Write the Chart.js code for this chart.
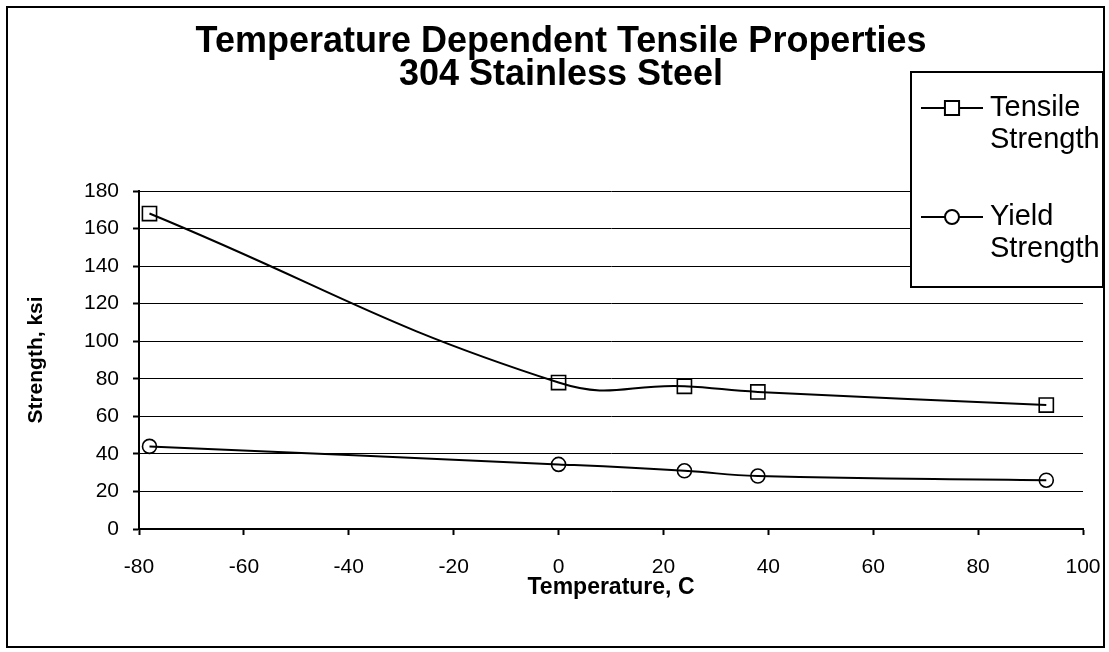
<!DOCTYPE html>
<html>
<head>
<meta charset="utf-8">
<script src="https://cdn.jsdelivr.net/npm/chart.js@4.4.1/dist/chart.umd.min.js"></script>
<style>
  html, body { margin: 0; padding: 0; background: #fff; }
  #wrap { width: 1109px; height: 652px; }
</style>
</head>
<body>
<div id="wrap"><canvas id="myChart" width="1109" height="652"></canvas></div>
<script>
// data
const temperatures = [-78, 0, 24, 38, 93];
const tensileStrength = [168, 78, 76, 73, 66];
const yieldStrength = [44, 34.4, 31, 28.2, 26];
const seriesNames = ["Tensile Strength", "Yield Strength"];
const seriesMarkers = ["rect", "circle"];
const titleLines = ["Temperature Dependent Tensile Properties", "304 Stainless Steel"];
const xTicks = { min: -80, max: 100, step: 20 };
const yTicks = { min: 0, max: 180, step: 20 };

const FONT = "'Liberation Sans', Arial, Helvetica, sans-serif";

function toPoints(ys) {
    return temperatures.map((t, i) => ({ x: t, y: ys[i] }));
}

// white page, outer frame and the two-line title
const framePlugin = {
    id: "frame",
    beforeDraw(chart) {
        const ctx = chart.ctx;
        ctx.save();
        ctx.fillStyle = "#fff";
        ctx.fillRect(0, 0, chart.width, chart.height);
        ctx.restore();
    },
    afterDraw(chart) {
        const ctx = chart.ctx;
        ctx.save();
        ctx.strokeStyle = "#000";
        ctx.lineWidth = 2;
        ctx.strokeRect(7, 7, 1097, 640);
        ctx.fillStyle = "#000";
        ctx.font = "bold 36px " + FONT;
        ctx.textAlign = "center";
        ctx.textBaseline = "alphabetic";
        ctx.fillText(titleLines[0], 561, 52);
        ctx.fillText(titleLines[1], 561, 85);
        ctx.restore();
    }
};

// Excel style boxed legend sitting over the plot
const boxLegend = {
    id: "boxLegend",
    afterDatasetsDraw(chart) {
        const ctx = chart.ctx;
        const box = { x: 911, y: 72, w: 192, h: 215 };
        const rows = [108, 217];
        ctx.save();
        ctx.fillStyle = "#fff";
        ctx.fillRect(box.x, box.y, box.w, box.h);
        ctx.strokeStyle = "#000";
        ctx.lineWidth = 2;
        ctx.strokeRect(box.x, box.y, box.w, box.h);

        chart.data.datasets.forEach((ds, i) => {
            const y = rows[i];
            ctx.strokeStyle = "#000";
            ctx.lineWidth = 2;
            ctx.beginPath();
            ctx.moveTo(921, y);
            ctx.lineTo(983, y);
            ctx.stroke();
            ctx.fillStyle = "#fff";
            Chart.helpers.drawPoint(ctx, {
                pointStyle: ds.pointStyle,
                radius: ds.pointRadius,
                rotation: 0,
                borderWidth: 1.6
            }, 952, y);
            ctx.fillStyle = "#000";
            ctx.font = "29px " + FONT;
            ctx.textAlign = "left";
            ctx.textBaseline = "middle";
            ds.label.split(" ").forEach((word, k) => {
                ctx.fillText(word, 990, y + k * 32);
            });
        });
        ctx.restore();
    }
};

const commonSet = {
    borderColor: "#000",
    borderWidth: 2,
    backgroundColor: "rgba(0,0,0,0)",
    pointBorderColor: "#000",
    pointBackgroundColor: "rgba(0,0,0,0)",
    pointBorderWidth: 1.6,
    pointHoverRadius: 7,
    tension: 0.45,
    fill: false
};

new Chart("myChart", {
    type: "line",
    data: {
        datasets: [
            Object.assign({}, commonSet, {
                label: seriesNames[0],
                data: toPoints(tensileStrength),
                pointStyle: seriesMarkers[0],
                pointRadius: 10
            }),
            Object.assign({}, commonSet, {
                label: seriesNames[1],
                data: toPoints(yieldStrength),
                pointStyle: seriesMarkers[1],
                pointRadius: 7
            })
        ]
    },
    options: {
        responsive: false,
        animation: false,
        layout: {
            padding: { left: 0, top: 191, right: 26, bottom: 51 }
        },
        plugins: {
            legend: { display: false },
            title: { display: false },
            tooltip: { enabled: false }
        },
        scales: {
            x: {
                type: "linear",
                min: xTicks.min,
                max: xTicks.max,
                afterFit(scale) {
                    scale.height = 72;
                    scale.paddingLeft = 0;
                    scale.paddingRight = 0;
                },
                ticks: {
                    stepSize: xTicks.step,
                    padding: 20,
                    color: "#000",
                    font: { family: FONT, size: 21 },
                    maxRotation: 0
                },
                grid: {
                    drawOnChartArea: false,
                    drawTicks: true,
                    tickLength: 6,
                    tickWidth: 2,
                    tickColor: "#000",
                    color: "#000"
                },
                border: { display: true, color: "#000", width: 2 },
                title: {
                    display: true,
                    text: "Temperature, C",
                    color: "#000",
                    font: { family: FONT, size: 23, weight: "bold" },
                    padding: { top: 0, bottom: 0 }
                }
            },
            y: {
                min: yTicks.min,
                max: yTicks.max,
                afterFit(scale) {
                    scale.width = 139;
                    scale.paddingTop = 0;
                    scale.paddingBottom = 0;
                },
                ticks: {
                    stepSize: yTicks.step,
                    padding: 14,
                    color: "#000",
                    font: { family: FONT, size: 21 }
                },
                grid: {
                    color: "#000",
                    lineWidth: 1,
                    drawTicks: true,
                    tickLength: 6,
                    tickWidth: 2,
                    tickColor: "#000"
                },
                border: { display: true, color: "#000", width: 2 },
                title: {
                    display: true,
                    text: "Strength, ksi",
                    color: "#000",
                    font: { family: FONT, size: 21, weight: "bold" },
                    padding: { top: 24, bottom: 0 }
                }
            }
        }
    },
    plugins: [framePlugin, boxLegend]
});
</script>
</body>
</html>
